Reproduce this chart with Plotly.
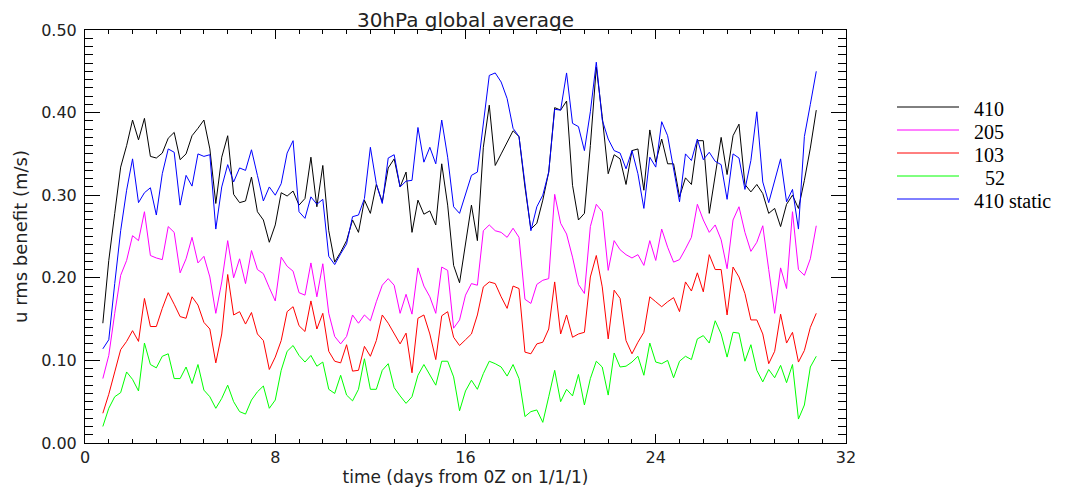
import plotly.graph_objects as go

# ---------------- data ----------------
days = [
    0.75,
    1.0, 1.25, 1.5, 1.75, 2.0, 2.25, 2.5, 2.75,
    3.0, 3.25, 3.5, 3.75, 4.0, 4.25, 4.5, 4.75,
    5.0, 5.25, 5.5, 5.75, 6.0, 6.25, 6.5, 6.75,
    7.0, 7.25, 7.5, 7.75, 8.0, 8.25, 8.5, 8.75,
    9.0, 9.25, 9.5, 9.75, 10.0, 10.25, 10.5, 10.75,
    11.0, 11.25, 11.5, 11.75, 12.0, 12.25, 12.5, 12.75,
    13.0, 13.25, 13.5, 13.75, 14.0, 14.25, 14.5, 14.75,
    15.0, 15.25, 15.5, 15.75, 16.0, 16.25, 16.5, 16.75,
    17.0, 17.25, 17.5, 17.75, 18.0, 18.25, 18.5, 18.75,
    19.0, 19.25, 19.5, 19.75, 20.0, 20.25, 20.5, 20.75,
    21.0, 21.25, 21.5, 21.75, 22.0, 22.25, 22.5, 22.75,
    23.0, 23.25, 23.5, 23.75, 24.0, 24.25, 24.5, 24.75,
    25.0, 25.25, 25.5, 25.75, 26.0, 26.25, 26.5, 26.75,
    27.0, 27.25, 27.5, 27.75, 28.0, 28.25, 28.5, 28.75,
    29.0, 29.25, 29.5, 29.75, 30.0, 30.25, 30.5, 30.75,
]

s410 = [
    0.145,
    0.221, 0.278, 0.334, 0.360, 0.391, 0.367, 0.393, 0.347,
    0.345, 0.351, 0.369, 0.376, 0.343, 0.350, 0.372, 0.381,
    0.391, 0.356, 0.290, 0.346, 0.372, 0.301, 0.291, 0.293,
    0.322, 0.280, 0.270, 0.243, 0.264, 0.303, 0.299, 0.305,
    0.288, 0.296, 0.346, 0.286, 0.336, 0.257, 0.219, 0.231,
    0.245, 0.270, 0.255, 0.294, 0.278, 0.313, 0.292, 0.333,
    0.344, 0.310, 0.328, 0.255, 0.294, 0.277, 0.281, 0.264,
    0.338, 0.288, 0.215, 0.194, 0.241, 0.288, 0.245, 0.358,
    0.409, 0.336, 0.350, 0.364, 0.378, 0.371, 0.310, 0.259,
    0.266, 0.294, 0.328, 0.406, 0.403, 0.414, 0.312, 0.270,
    0.278, 0.360, 0.455, 0.395, 0.326, 0.349, 0.344, 0.313,
    0.354, 0.356, 0.306, 0.379, 0.340, 0.368, 0.338, 0.338,
    0.298, 0.321, 0.313, 0.366, 0.366, 0.278, 0.326, 0.370,
    0.325, 0.372, 0.386, 0.313, 0.304, 0.313, 0.302, 0.278,
    0.284, 0.262, 0.289, 0.300, 0.284, 0.318, 0.357, 0.403,
]

s410_static = [
    0.114,
    0.125, 0.193, 0.257, 0.306, 0.344, 0.291, 0.303, 0.309,
    0.276, 0.326, 0.356, 0.352, 0.288, 0.324, 0.311, 0.350,
    0.347, 0.349, 0.259, 0.310, 0.337, 0.316, 0.333, 0.330,
    0.355, 0.324, 0.293, 0.310, 0.300, 0.314, 0.351, 0.366,
    0.280, 0.272, 0.298, 0.289, 0.295, 0.226, 0.216, 0.229,
    0.241, 0.274, 0.276, 0.296, 0.358, 0.314, 0.290, 0.345,
    0.349, 0.310, 0.317, 0.318, 0.382, 0.340, 0.358, 0.338,
    0.391, 0.346, 0.286, 0.278, 0.302, 0.324, 0.328, 0.385,
    0.445, 0.448, 0.437, 0.417, 0.381, 0.371, 0.314, 0.257,
    0.286, 0.300, 0.328, 0.404, 0.403, 0.448, 0.387, 0.383,
    0.354, 0.401, 0.461, 0.391, 0.368, 0.354, 0.351, 0.332,
    0.354, 0.326, 0.284, 0.346, 0.334, 0.389, 0.372, 0.334,
    0.292, 0.350, 0.342, 0.368, 0.343, 0.352, 0.341, 0.337,
    0.295, 0.350, 0.345, 0.307, 0.342, 0.401, 0.316, 0.291,
    0.316, 0.344, 0.292, 0.307, 0.259, 0.371, 0.410, 0.450,
]

s205 = [
    0.078,
    0.106, 0.157, 0.203, 0.221, 0.251, 0.245, 0.280, 0.227,
    0.224, 0.222, 0.262, 0.255, 0.206, 0.223, 0.249, 0.218,
    0.226, 0.201, 0.157, 0.195, 0.245, 0.200, 0.223, 0.193,
    0.233, 0.210, 0.205, 0.188, 0.172, 0.225, 0.214, 0.208,
    0.182, 0.179, 0.218, 0.177, 0.217, 0.157, 0.129, 0.120,
    0.129, 0.155, 0.145, 0.155, 0.148, 0.171, 0.191, 0.199,
    0.191, 0.157, 0.180, 0.156, 0.212, 0.190, 0.177, 0.157,
    0.213, 0.209, 0.139, 0.149, 0.179, 0.193, 0.191, 0.257,
    0.264, 0.257, 0.255, 0.249, 0.260, 0.249, 0.174, 0.169,
    0.192, 0.197, 0.199, 0.301, 0.266, 0.253, 0.225, 0.192,
    0.181, 0.262, 0.289, 0.280, 0.209, 0.245, 0.234, 0.228,
    0.224, 0.228, 0.215, 0.245, 0.221, 0.259, 0.237, 0.219,
    0.222, 0.235, 0.249, 0.289, 0.270, 0.255, 0.264, 0.246,
    0.211, 0.270, 0.286, 0.255, 0.232, 0.243, 0.263, 0.210,
    0.157, 0.212, 0.187, 0.280, 0.210, 0.203, 0.223, 0.263,
]

s103 = [
    0.036,
    0.059, 0.086, 0.113, 0.123, 0.136, 0.123, 0.175, 0.141,
    0.141, 0.163, 0.182, 0.168, 0.153, 0.151, 0.177, 0.167,
    0.146, 0.138, 0.097, 0.132, 0.204, 0.155, 0.159, 0.144,
    0.158, 0.132, 0.124, 0.089, 0.104, 0.124, 0.159, 0.165,
    0.142, 0.135, 0.172, 0.138, 0.157, 0.111, 0.099, 0.097,
    0.119, 0.087, 0.088, 0.117, 0.105, 0.124, 0.155, 0.145,
    0.132, 0.120, 0.133, 0.085, 0.151, 0.155, 0.132, 0.101,
    0.154, 0.159, 0.128, 0.118, 0.125, 0.132, 0.155, 0.189,
    0.195, 0.193, 0.177, 0.163, 0.190, 0.187, 0.110, 0.108,
    0.120, 0.122, 0.138, 0.195, 0.132, 0.155, 0.128, 0.132,
    0.134, 0.201, 0.227, 0.189, 0.126, 0.185, 0.175, 0.124,
    0.108, 0.122, 0.134, 0.177, 0.171, 0.165, 0.171, 0.176,
    0.159, 0.195, 0.184, 0.206, 0.183, 0.228, 0.210, 0.210,
    0.155, 0.213, 0.201, 0.181, 0.149, 0.149, 0.132, 0.096,
    0.111, 0.156, 0.121, 0.134, 0.098, 0.112, 0.140, 0.157,
]

s52 = [
    0.020,
    0.042, 0.056, 0.061, 0.086, 0.077, 0.063, 0.121, 0.095,
    0.091, 0.105, 0.108, 0.078, 0.078, 0.092, 0.072, 0.095,
    0.064, 0.056, 0.042, 0.054, 0.070, 0.050, 0.038, 0.035,
    0.052, 0.062, 0.069, 0.042, 0.052, 0.088, 0.111, 0.118,
    0.106, 0.098, 0.106, 0.093, 0.098, 0.065, 0.060, 0.082,
    0.058, 0.051, 0.065, 0.102, 0.065, 0.065, 0.088, 0.096,
    0.067, 0.057, 0.048, 0.056, 0.082, 0.095, 0.083, 0.070,
    0.099, 0.099, 0.080, 0.039, 0.063, 0.076, 0.065, 0.084,
    0.099, 0.096, 0.092, 0.081, 0.095, 0.078, 0.032, 0.038,
    0.040, 0.025, 0.056, 0.088, 0.050, 0.065, 0.057, 0.083,
    0.046, 0.078, 0.099, 0.092, 0.058, 0.109, 0.092, 0.093,
    0.098, 0.105, 0.082, 0.121, 0.098, 0.096, 0.100, 0.079,
    0.099, 0.105, 0.101, 0.126, 0.130, 0.121, 0.148, 0.132,
    0.104, 0.134, 0.133, 0.099, 0.119, 0.088, 0.074, 0.089,
    0.079, 0.094, 0.073, 0.095, 0.029, 0.046, 0.092, 0.105,
]

series_names = ["410", "205", "103", "52", "410 static"]
series_values = [s410, s205, s103, s52, s410_static]
series_colors = ["#000000", "#ff00ff", "#ff0000", "#00ff00", "#0000ff"]

x_ticks = [0, 8, 16, 24, 32]
y_ticks = [0.0, 0.1, 0.2, 0.3, 0.4, 0.5]

# ---------------- layout geometry (page pixels) ----------------
OFF = 8                      # default body margin of the html page
W, H = 1075 - 2 * OFF, 495 - 2 * OFF
P_LEFT, P_RIGHT, P_TOP, P_BOTTOM = 85, 846, 30, 443   # plot box on the page
L = P_LEFT - OFF
T = P_TOP - OFF
R = W - (P_RIGHT - OFF)
B = H - (P_BOTTOM - OFF)
PW, PH = P_RIGHT - P_LEFT, P_BOTTOM - P_TOP


def px_x(p):
    return (p - P_LEFT) / PW


def px_y(p):
    return (P_BOTTOM - p) / PH


fig = go.Figure()
for name, vals, col in zip(series_names, series_values, series_colors):
    fig.add_trace(go.Scatter(x=days, y=vals, mode="lines", name=name,
                             line=dict(color=col, width=1),
                             showlegend=False, hoverinfo="skip"))

sans = "DejaVu Sans"
tick_font = dict(family=sans, size=16, color="#222222")

fig.update_layout(
    width=W, height=H,
    margin=dict(l=L, r=R, t=T, b=B, autoexpand=False),
    paper_bgcolor="white", plot_bgcolor="white",
    title=dict(text="30hPa global average", x=0.5, xref="paper",
               xanchor="center", y=1 - (20 - OFF) / H, yref="container",
               yanchor="middle", font=dict(family=sans, size=20, color="#222222")),
    xaxis=dict(range=[0, 32], tickvals=x_ticks, ticktext=[str(v) for v in x_ticks],
               ticks="inside", ticklen=9, tickwidth=1, tickcolor="black",
               minor=dict(ticks="inside", ticklen=4, dtick=1, tick0=0,
                          tickcolor="black", tickwidth=1, showgrid=False),
               showline=True, linecolor="black", linewidth=1, mirror="ticks",
               showgrid=False, zeroline=False, tickfont=tick_font,
               ticklabelstandoff=0,
               title=dict(text="time (days from 0Z on 1/1/1)",
                          font=dict(family=sans, size=17, color="#222222"),
                          standoff=14)),
    yaxis=dict(range=[0, 0.5], tickvals=y_ticks,
               ticktext=["%.2f" % v for v in y_ticks],
               ticks="inside", ticklen=15, tickwidth=1, tickcolor="black",
               minor=dict(ticks="inside", ticklen=8, dtick=0.01, tick0=0,
                          tickcolor="black", tickwidth=1, showgrid=False),
               showline=True, linecolor="black", linewidth=1, mirror="ticks",
               showgrid=False, zeroline=False, tickfont=tick_font,
               ticklabelstandoff=4,
               title=dict(text="u rms benefit (m/s)",
                          font=dict(family=sans, size=18, color="#222222"),
                          standoff=8)),
)

# ---------------- manual legend (IDL style) ----------------
line_y = [107, 130, 153, 176, 199]
text_x = [973, 973, 973, 984, 973]
for name, col, ly, tx in zip(series_names, series_colors, line_y, text_x):
    fig.add_shape(type="line", xref="paper", yref="paper",
                  x0=px_x(897), x1=px_x(959), y0=px_y(ly), y1=px_y(ly),
                  line=dict(color=col, width=1))
    fig.add_annotation(text=name, xref="paper", yref="paper",
                       x=px_x(tx), y=px_y(ly + 2), xanchor="left", yanchor="middle",
                       showarrow=False, borderpad=0,
                       font=dict(family="Liberation Serif", size=20, color="black"))

fig.write_html("out.html")
